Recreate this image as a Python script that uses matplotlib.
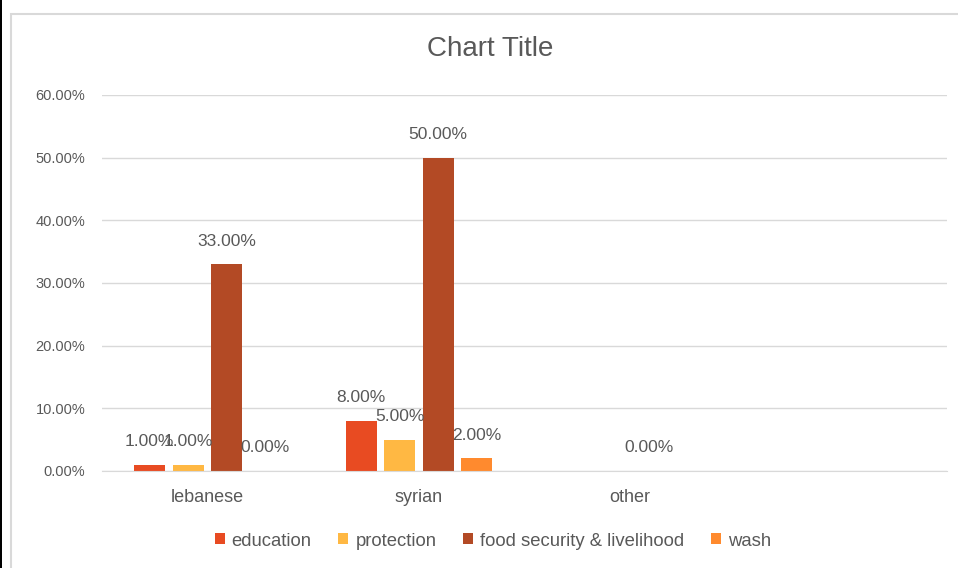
import numpy as np
import matplotlib.pyplot as plt
from matplotlib.patches import Rectangle

plt.rcParams['font.family'] = ['Liberation Sans', 'DejaVu Sans']

# data (nan = no bar / no label)
categories = ["lebanese", "syrian", "other", ""]
series = ["education", "protection", "food security & livelihood", "wash"]
education = [0.01, 0.08, np.nan, np.nan]
protection = [0.01, 0.05, np.nan, np.nan]
food_security = [0.33, 0.50, 0.0, np.nan]
wash = [0.0, 0.02, np.nan, np.nan]
colors = ["#E84B22", "#FFB843", "#B34A25", "#FF8A2E"]

text_col = "#595959"
grid_col = "#D9D9D9"

fig = plt.figure(figsize=(9.58, 5.68), dpi=100)
W, H = 958, 568

# outer chart frame, clipped by figure edges like the screenshot
fig.patches.append(Rectangle((0, 0), 2 / W, 1, transform=fig.transFigure,
                             facecolor="black", edgecolor="none"))
fig.patches.append(Rectangle((10.5 / W, -0.1), 1.2, (H - 13.5) / H + 0.1,
                             transform=fig.transFigure, facecolor="none",
                             edgecolor=grid_col, linewidth=1.5))

ax = fig.add_axes([102 / W, 97 / H, 845 / W, 376 / H])

x = np.arange(len(categories))
step = 0.1825
width = 0.147
all_vals = [education, protection, food_security, wash]
for i, (name, vals, col) in enumerate(zip(series, all_vals, colors)):
    pos = x + (i - 1.5) * step
    ax.bar(pos, vals, width, color=col, label=name, zorder=3)
    for p, v in zip(pos, vals):
        if not np.isnan(v):
            ax.annotate(f"{v * 100:.2f}%", (p, v), xytext=(0, 23),
                        textcoords="offset pixels", ha="center", va="center",
                        fontsize=12.5, color=text_col, zorder=4)

ax.set_xlim(-0.5, len(categories) - 0.5)
ax.set_ylim(0, 0.6)
ax.set_yticks(np.arange(0, 0.61, 0.1))
ax.set_yticklabels([f"{t * 100:.2f}%" for t in np.arange(0, 0.61, 0.1)])
ax.set_xticks(x)
ax.set_xticklabels(categories)
ax.tick_params(axis="y", length=0, pad=12, labelsize=10.5, labelcolor=text_col)
ax.tick_params(axis="x", length=0, pad=13, labelsize=13, labelcolor=text_col)
ax.grid(axis="y", color=grid_col, linewidth=1, zorder=0)
for s in ["top", "right", "left"]:
    ax.spines[s].set_visible(False)
ax.spines["bottom"].set_color(grid_col)
ax.spines["bottom"].set_zorder(3)

fig.text(490 / W, 1 - 49 / H, "Chart Title", ha="center", va="center",
         fontsize=20, color=text_col)

fig.legend(loc="center", bbox_to_anchor=(493 / W, 1 - 541 / H), ncol=4,
           frameon=False, fontsize=13.3, labelcolor=text_col,
           handlelength=0.54, handleheight=0.54, handletextpad=0.38,
           columnspacing=1.45)

fig.savefig("out.png", dpi=100)
